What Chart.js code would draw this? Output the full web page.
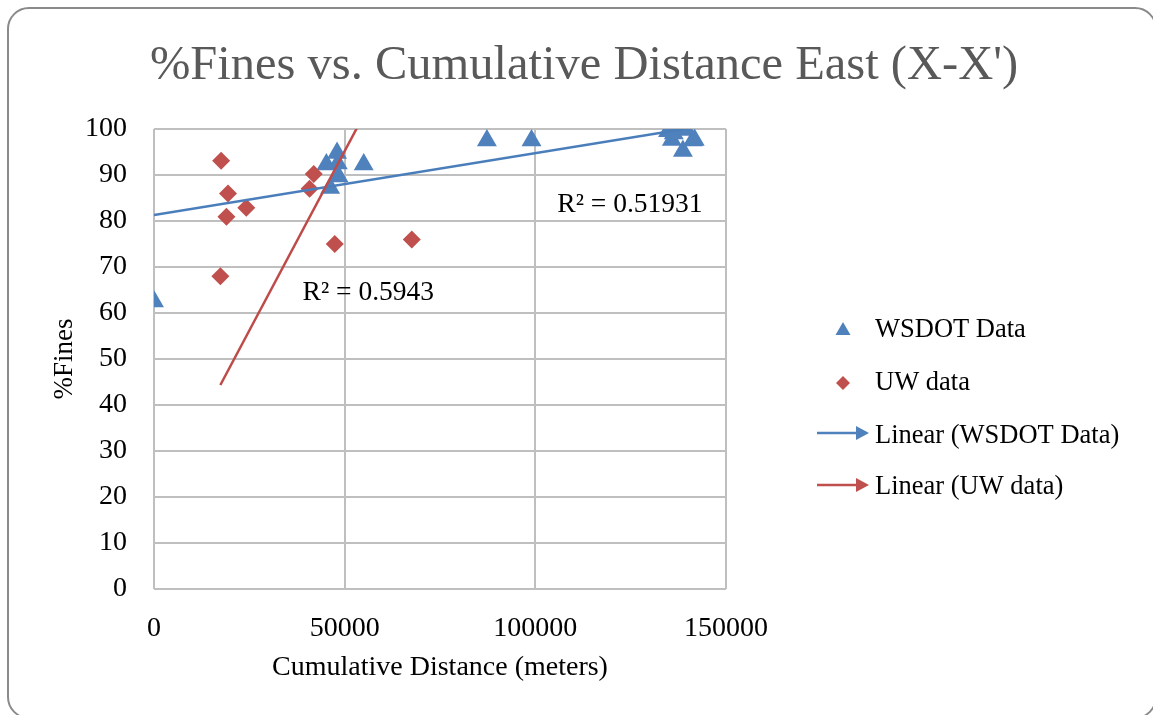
<!DOCTYPE html>
<html>
<head>
<meta charset="utf-8">
<title>%Fines vs. Cumulative Distance East (X-X')</title>
<script src="https://cdn.jsdelivr.net/npm/chart.js@4/dist/chart.umd.min.js"></script>
<style>
  html, body { margin: 0; padding: 0; background: #ffffff; }
  #wrap { position: relative; width: 1153px; height: 715px; overflow: hidden; }
  #frame {
    position: absolute; left: 7px; top: 7px; width: 1150px; height: 712px;
    border: 2px solid #8a8a8a; border-radius: 22px; box-sizing: border-box;
    pointer-events: none;
  }
  canvas { position: absolute; left: 0; top: 0; }
</style>
</head>
<body>
<div id="wrap">
  <canvas id="chart" width="1153" height="715"></canvas>
  <div id="frame"></div>
</div>
<script>
// Cumulative distance east (m) and % fines, WSDOT borings
const wsdotDistance = [0, 45200, 46200, 48000, 48400, 48200, 55000, 87300, 99000,
                       134800, 135800, 136300, 139500, 138700, 141300, 141800];
const wsdotFines    = [62.5, 92.3, 87.2, 94.8, 89.7, 92.5, 92.3, 97.5, 97.5,
                       99.5, 97.6, 99.0, 99.8, 95.2, 97.5, 97.6];

// Cumulative distance east (m) and % fines, UW samples
const uwDistance = [17400, 17600, 19000, 19400, 24200, 40800, 41900, 47400, 67600];
const uwFines    = [68.0, 93.1, 80.9, 86.0, 82.9, 87.0, 90.2, 75.0, 76.0];

// Linear trendlines: [intercept, slope] and x-range [start, end]
const wsdotTrendCoef = [81.3, 0.0001345];
const wsdotTrendEnds = [0, 141800];
const uwTrendCoef    = [17.2, 0.00156];
const uwTrendEnds    = [17400, 67600];

const seriesNames = ['WSDOT Data', 'UW data', 'Linear (WSDOT Data)', 'Linear (UW data)'];
const r2Text = ['R\u00B2 = 0.51931', 'R\u00B2 = 0.5943'];

const xTicks = [0, 50000, 100000, 150000];
const yTicks = [0, 10, 20, 30, 40, 50, 60, 70, 80, 90, 100];

const BLUE = '#4F81BD';
const RED = '#C0504D';
const SERIF = "'Liberation Serif', 'DejaVu Serif', serif";

const pairs = (xs, ys) => xs.map((x, i) => ({ x: x, y: ys[i] }));
const trend = (coef, ends) => ends.map(x => ({ x: x, y: coef[0] + coef[1] * x }));

// Title, R² annotations and legend drawn on top of the chart
const decorations = {
  id: 'decorations',
  afterDraw(chart) {
    const ctx = chart.ctx;
    const xs = chart.scales.x, ys = chart.scales.y;
    ctx.save();

    // title
    ctx.fillStyle = '#595959';
    ctx.font = '48.5px ' + SERIF;
    ctx.textAlign = 'center';
    ctx.textBaseline = 'middle';
    ctx.fillText("%Fines vs. Cumulative Distance East (X-X')", 584, 66);

    // R² labels
    ctx.fillStyle = '#000000';
    ctx.font = '27.5px ' + SERIF;
    ctx.fillText(r2Text[0], xs.getPixelForValue(124800), ys.getPixelForValue(83.5));
    ctx.fillText(r2Text[1], xs.getPixelForValue(56200), ys.getPixelForValue(64.3));

    // legend
    const lx = 843, tx = 875;
    const rows = [330, 383, 436, 487];
    ctx.textAlign = 'left';
    ctx.font = '26.5px ' + SERIF;
    rows.forEach((y, i) => {
      ctx.fillStyle = '#000000';
      ctx.fillText(seriesNames[i], tx, y);
    });
    // triangle marker
    ctx.fillStyle = BLUE;
    ctx.beginPath();
    ctx.moveTo(lx, rows[0] - 8);
    ctx.lineTo(lx + 7.5, rows[0] + 5);
    ctx.lineTo(lx - 7.5, rows[0] + 5);
    ctx.closePath();
    ctx.fill();
    // diamond marker
    ctx.fillStyle = RED;
    ctx.beginPath();
    ctx.moveTo(lx, rows[1] - 7);
    ctx.lineTo(lx + 7, rows[1]);
    ctx.lineTo(lx, rows[1] + 7);
    ctx.lineTo(lx - 7, rows[1]);
    ctx.closePath();
    ctx.fill();
    // arrow samples for trendlines
    [[rows[2] - 3, BLUE], [rows[3] - 2, RED]].forEach(([y, c]) => {
      ctx.strokeStyle = c;
      ctx.fillStyle = c;
      ctx.lineWidth = 2.5;
      ctx.beginPath();
      ctx.moveTo(817, y);
      ctx.lineTo(858, y);
      ctx.stroke();
      ctx.beginPath();
      ctx.moveTo(869, y);
      ctx.lineTo(856, y - 7);
      ctx.lineTo(856, y + 7);
      ctx.closePath();
      ctx.fill();
    });
    ctx.restore();
  }
};

new Chart(document.getElementById('chart'), {
  type: 'scatter',
  data: {
    datasets: [
      {
        label: seriesNames[0],
        data: pairs(wsdotDistance, wsdotFines),
        pointStyle: 'triangle',
        pointRadius: 11.5,
        pointHoverRadius: 11.5,
        backgroundColor: BLUE,
        borderColor: BLUE,
        borderWidth: 0,
        order: 3
      },
      {
        label: seriesNames[1],
        data: pairs(uwDistance, uwFines),
        pointStyle: 'rectRot',
        pointRadius: 9,
        pointHoverRadius: 9,
        backgroundColor: RED,
        borderColor: RED,
        borderWidth: 0,
        order: 2
      },
      {
        label: seriesNames[2],
        data: trend(wsdotTrendCoef, wsdotTrendEnds),
        showLine: true,
        pointRadius: 0,
        borderColor: '#4A7EBB',
        borderWidth: 2.5,
        order: 1
      },
      {
        label: seriesNames[3],
        data: trend(uwTrendCoef, uwTrendEnds),
        showLine: true,
        pointRadius: 0,
        borderColor: '#BE4B48',
        borderWidth: 2.5,
        order: 0
      }
    ]
  },
  options: {
    responsive: false,
    animation: false,
    devicePixelRatio: 1,
    layout: { padding: { top: 129, right: 427, bottom: 0, left: 0 } },
    plugins: {
      legend: { display: false },
      tooltip: { enabled: false }
    },
    scales: {
      x: {
        type: 'linear',
        min: 0,
        max: 150000,
        afterBuildTicks: s => { s.ticks = xTicks.map(v => ({ value: v })); },
        afterFit: s => { s.height = 126; },
        ticks: {
          callback: v => String(v),
          color: '#000000',
          font: { family: SERIF, size: 28 },
          padding: 23,
          maxRotation: 0
        },
        grid: { color: '#BFBFBF', lineWidth: 2, drawTicks: false },
        border: { display: false },
        title: {
          display: true,
          text: 'Cumulative Distance (meters)',
          color: '#000000',
          font: { family: SERIF, size: 28 },
          padding: { top: 0, bottom: 31 }
        }
      },
      y: {
        type: 'linear',
        min: 0,
        max: 100,
        afterBuildTicks: s => { s.ticks = yTicks.map(v => ({ value: v })); },
        afterFit: s => { s.width = 154; },
        ticks: {
          color: '#000000',
          font: { family: SERIF, size: 28 },
          padding: 27
        },
        grid: { color: '#BFBFBF', lineWidth: 2, drawTicks: false },
        border: { display: false },
        title: {
          display: true,
          text: '%Fines',
          color: '#000000',
          font: { family: SERIF, size: 27 },
          padding: { top: 49, bottom: 0 }
        }
      }
    }
  },
  plugins: [decorations]
});
</script>
</body>
</html>
